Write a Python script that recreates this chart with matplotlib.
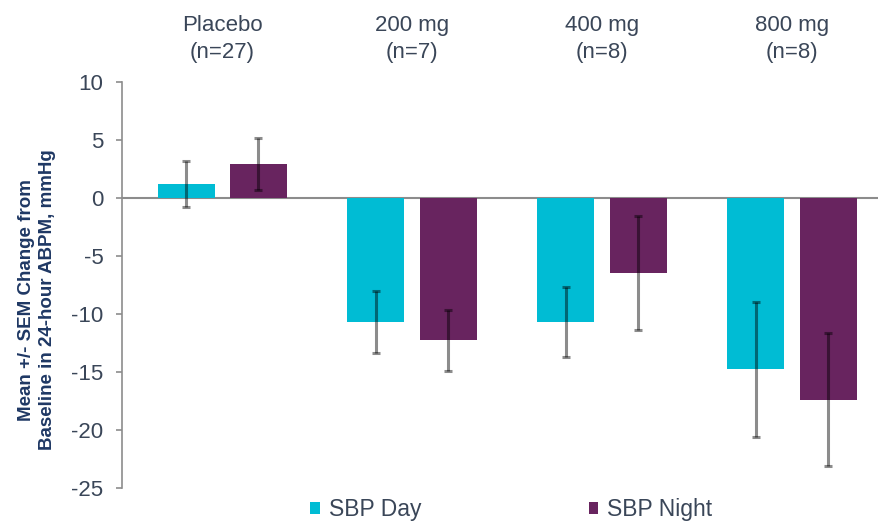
import numpy as np
import matplotlib.pyplot as plt

plt.rcParams['font.family'] = ['Liberation Sans', 'DejaVu Sans']
plt.rcParams['axes.unicode_minus'] = False

groups = ['Placebo\n(n=27)', '200 mg\n(n=7)', '400 mg\n(n=8)', '800 mg\n(n=8)']
day = [1.2, -10.7, -10.7, -14.8]
day_err = [2.0, 2.65, 3.05, 5.85]
night = [2.9, -12.3, -6.5, -17.4]
night_err = [2.25, 2.65, 4.9, 5.75]

cyan = '#00BCD4'
purple = '#68245F'
txt = '#3a4658'

fig = plt.figure(figsize=(8.79, 5.24), dpi=100)
ax = fig.add_axes([0.139, 0.069, 0.861, 0.775])

x = np.arange(len(groups))
w = 0.30
off = 0.19
ekw = dict(ecolor='black', elinewidth=2.2, capsize=3.2, capthick=2.2, alpha=0.45)
ax.bar(x - off, day, w, color=cyan, label='SBP Day', zorder=2)
ax.bar(x + off, night, w, color=purple, label='SBP Night', zorder=2)
ax.errorbar(x - off, day, yerr=day_err, fmt='none', zorder=3, **ekw)
ax.errorbar(x + off, night, yerr=night_err, fmt='none', zorder=3, **ekw)

ax.axhline(0, color='#8c8c8c', lw=1.5, zorder=1)
ax.set_xlim(-0.526, 3.458)
ax.set_ylim(-25, 10)
ax.set_yticks(np.arange(-25, 11, 5))
ax.set_xticks([])
for s in ['top', 'right', 'bottom']:
    ax.spines[s].set_visible(False)
ax.spines['left'].set_color('#8c8c8c')
ax.spines['left'].set_linewidth(1.2)
ax.tick_params(axis='y', direction='out', length=4.5, width=1.2, color='#8c8c8c',
               labelsize=16, labelcolor=txt, pad=9)

# group labels above the plot
for i, g in enumerate(groups):
    ax.text(x[i], 1.105, g, transform=ax.get_xaxis_transform(), ha='center', va='center',
            fontsize=16, color=txt, linespacing=1.35)

fig.text(37 / 879, 1 - 300 / 524, 'Mean +/- SEM Change from\nBaseline in 24-hour ABPM, mmHg',
         rotation=90, ha='center', va='center', fontsize=13.5, fontweight='bold',
         color='#1F3864', linespacing=1.3)

fig.legend(loc='center left', bbox_to_anchor=(310 / 879, 0.027), ncol=2, frameon=False,
           fontsize=16.5, handlelength=0.42, handleheight=0.42, handletextpad=0.4,
           columnspacing=7.3, borderpad=0, borderaxespad=0, labelcolor=txt)

fig.savefig('out.png', dpi=100)
